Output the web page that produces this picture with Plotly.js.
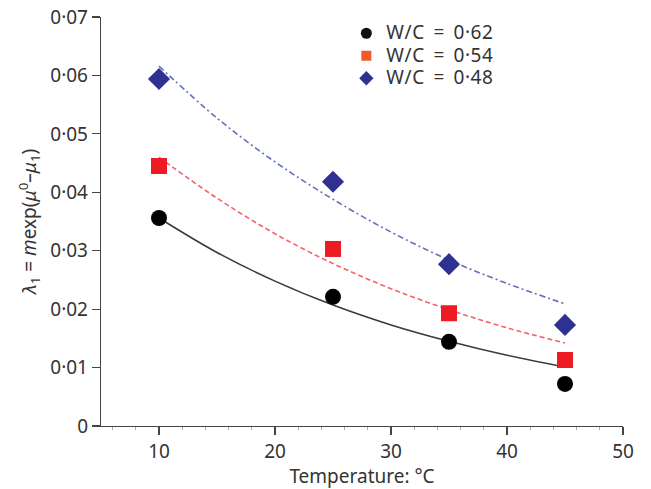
<!DOCTYPE html>
<html>
<head>
<meta charset="utf-8">
<script src="https://cdn.plot.ly/plotly-3.0.1.min.js"></script>
<style>
html,body{margin:0;padding:0;background:#fff;}
#chart{width:651px;height:489px;}
#chart .legendtext{font-size:19px !important; word-spacing:3px; letter-spacing:0.6px;}
#chart .legend .scrollbox{clip-path:none !important;}
</style>
</head>
<body>
<div id="chart"></div>
<script>
// Measured points
const temps = [10, 25, 35, 45];
const wc062 = [0.0356, 0.0221, 0.0144, 0.0072];
const wc054 = [0.0445, 0.0303, 0.0193, 0.0113];
const wc048 = [0.0594, 0.0418, 0.0277, 0.0173];

// Fitted trend curves
const fitX = [10, 15, 20, 25, 30, 35, 40, 45];
const fit062 = [0.0356, 0.0297, 0.0248, 0.0207, 0.0173, 0.0145, 0.0121, 0.0101];
const fit054 = [0.0460, 0.0390, 0.0329, 0.0278, 0.0235, 0.0199, 0.0168, 0.0142];
const fit048 = [0.0616, 0.0527, 0.0452, 0.0388, 0.0332, 0.0284, 0.0244, 0.0209];

const seriesNames = ['W/C = 0·62', 'W/C = 0·54', 'W/C = 0·48'];

const xTickVals = [10, 20, 30, 40, 50];
const xTickText = ['10', '20', '30', '40', '50'];
const yTickVals = [0, 0.01, 0.02, 0.03, 0.04, 0.05, 0.06, 0.07];
const yTickText = ['0', '0·01', '0·02', '0·03', '0·04', '0·05', '0·06', '0·07'];

const FONT = 'Noto Sans, Open Sans, sans-serif';

const traces = [
  {x: fitX, y: fit062, mode: 'lines', line: {color: '#3a3a3a', width: 1.5, shape: 'spline'}, showlegend: false, hoverinfo: 'skip'},
  {x: fitX, y: fit054, mode: 'lines', line: {color: '#f0646c', width: 1.6, dash: '5px,3px', shape: 'spline'}, showlegend: false, hoverinfo: 'skip'},
  {x: fitX, y: fit048, mode: 'lines', line: {color: '#6470bd', width: 1.6, dash: '6px,3px,2px,3px', shape: 'spline'}, showlegend: false, hoverinfo: 'skip'},
  {x: temps, y: wc062, mode: 'markers', marker: {symbol: 'circle', size: 16, color: '#000000'}, showlegend: false},
  {x: temps, y: wc054, mode: 'markers', marker: {symbol: 'square', size: 16, color: '#ed1c24'}, showlegend: false},
  {x: temps, y: wc048, mode: 'markers', marker: {symbol: 'diamond', size: 17, color: '#2e3192'}, showlegend: false},
  // legend entries
  {x: [null], y: [null], mode: 'markers', name: seriesNames[0], marker: {symbol: 'circle', size: 11, color: '#111111'}},
  {x: [null], y: [null], mode: 'markers', name: seriesNames[1], marker: {symbol: 'square', size: 10, color: '#f15a29'}},
  {x: [null], y: [null], mode: 'markers', name: seriesNames[2], marker: {symbol: 'diamond', size: 11, color: '#2e3192'}}
];

const layout = {
  width: 651, height: 489,
  margin: {l: 101, r: 28, t: 17, b: 63},
  paper_bgcolor: '#ffffff', plot_bgcolor: '#ffffff',
  font: {family: FONT, size: 19, color: '#333333'},
  showlegend: true,
  legend: {x: 0.47, y: 1.0, xanchor: 'left', yanchor: 'top', bgcolor: 'rgba(0,0,0,0)', font: {size: 15, color: '#333333'}, tracegroupgap: 0},
  xaxis: {
    range: [5, 50], tickvals: xTickVals, ticktext: xTickText,
    showgrid: false, zeroline: false, showline: true, linecolor: '#444444', linewidth: 1.2,
    ticks: 'outside', ticklen: 8, tickcolor: '#444444', tickwidth: 1.2,
    minor: {dtick: 2, tick0: 0, ticks: 'outside', ticklen: 3, tickcolor: '#aaaaaa', tickwidth: 1, showgrid: false},
    title: {text: 'Temperature: °C', font: {size: 19, color: '#333333'}, standoff: 2},
    automargin: false, fixedrange: true
  },
  yaxis: {
    range: [0, 0.07], tickvals: yTickVals, ticktext: yTickText,
    showgrid: false, zeroline: false, showline: true, linecolor: '#444444', linewidth: 1.2,
    ticks: 'outside', ticklen: 8, tickcolor: '#444444', tickwidth: 1.2,
    title: {text: '<i>λ</i><sub>1</sub> = <i>m</i>exp(<i>μ</i><sup>0</sup>–<i>μ</i><sub>1</sub>)', font: {size: 19, color: '#333333'}, standoff: 8},
    automargin: false, fixedrange: true
  }
};

Plotly.newPlot('chart', traces, layout, {displayModeBar: false, staticPlot: true});
</script>
</body>
</html>
